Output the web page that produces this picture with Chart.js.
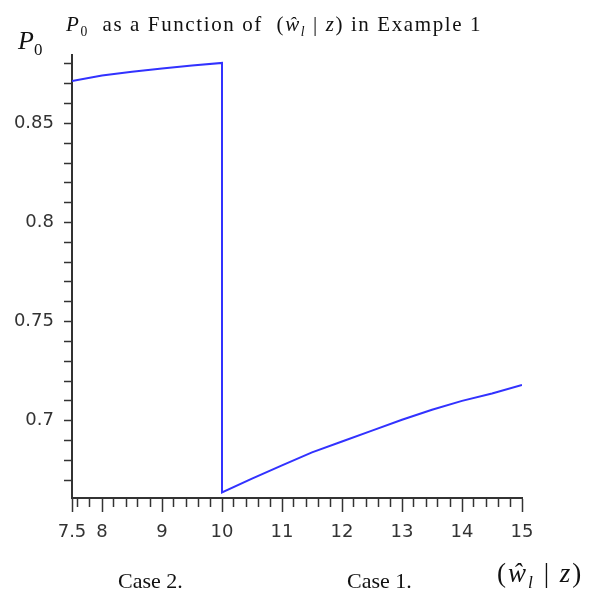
<!DOCTYPE html>
<html>
<head>
<meta charset="utf-8">
<script src="https://cdn.jsdelivr.net/npm/chart.js@4/dist/chart.umd.min.js"></script>
<style>
    body { margin: 0; background: #fff; }
    #wrap { position: relative; width: 589px; height: 597px; }
    #wrap canvas { position: absolute; left: 0; top: 0; }
    .txt { position: absolute; white-space: nowrap; font-family: "Liberation Serif", "DejaVu Serif", serif; color: #111; line-height: 1; }
    .txt sub { font-size: 0.65em; vertical-align: -0.35em; }
</style>
</head>
<body>
<div id="wrap">
    <canvas id="p0Chart" width="589" height="597"></canvas>
    <div class="txt" id="title" style="left:66px; top:14px; font-size:21px; letter-spacing:1.6px;"><i>P</i><sub>0</sub>&nbsp; as a Function of &nbsp;(<i>ŵ</i><sub><i>l</i></sub> | <i>z</i>) in Example 1</div>
    <div class="txt" id="ylab" style="left:18px; top:28px; font-size:26px;"><i>P</i><sub>0</sub></div>
    <div class="txt" style="left:118px; top:570px; font-size:22px;">Case 2.</div>
    <div class="txt" style="left:347px; top:570px; font-size:22px;">Case 1.</div>
    <div class="txt" id="xlab" style="left:497px; top:560px; font-size:27px; letter-spacing:2px;">(<i>ŵ</i><sub><i>l</i></sub> | <i>z</i>)</div>
</div>
<script>
// Case 2 branch (left of 10) and Case 1 branch (right of 10)
const case2X = [7.5, 8.0, 8.5, 9.0, 9.5, 10.0];
const case2P = [0.8714, 0.8742, 0.8760, 0.8777, 0.8792, 0.8805];
const case1X = [10.0, 10.5, 11.0, 11.5, 12.0, 12.5, 13.0, 13.5, 14.0, 14.5, 15.0];
const case1P = [0.6638, 0.6708, 0.6775, 0.6840, 0.6895, 0.6950, 0.7005, 0.7055, 0.7100, 0.7137, 0.7180];

// tick positions
const xMajorTicks = [7.5, 8, 9, 10, 11, 12, 13, 14, 15];
const xMinorTicks = [7.6, 7.8, 8.2, 8.4, 8.6, 8.8, 9.2, 9.4, 9.6, 9.8, 10.2, 10.4, 10.6, 10.8,
    11.2, 11.4, 11.6, 11.8, 12.2, 12.4, 12.6, 12.8, 13.2, 13.4, 13.6, 13.8, 14.2, 14.4, 14.6, 14.8];
const yMajorTicks = [0.7, 0.75, 0.8, 0.85];
const yMinorTicks = [0.67, 0.68, 0.69, 0.71, 0.72, 0.73, 0.74, 0.76, 0.77, 0.78, 0.79,
    0.81, 0.82, 0.83, 0.84, 0.86, 0.87, 0.88];
const yTickLabels = ['0.7', '0.75', '0.8', '0.85'];

const isIn = (list, v) => list.some(m => Math.abs(m - v) < 1e-6);

const points = [];
case2X.forEach((x, i) => points.push({ x: x, y: case2P[i] }));
case1X.forEach((x, i) => points.push({ x: x, y: case1P[i] }));

const axisColor = '#333';
const tickFont = { family: 'DejaVu Sans', size: 18 };

new Chart(document.getElementById('p0Chart'), {
    type: 'scatter',
    data: {
        datasets: [{
            data: points,
            showLine: true,
            borderColor: 'rgb(50, 50, 255)',
            borderWidth: 2,
            pointRadius: 0,
            tension: 0
        }]
    },
    options: {
        responsive: false,
        animation: false,
        devicePixelRatio: 1,
        layout: { padding: { top: 55, right: 67, left: 0, bottom: 0 } },
        plugins: { legend: { display: false }, tooltip: { enabled: false } },
        scales: {
            x: {
                type: 'linear',
                min: 7.5,
                max: 15,
                afterBuildTicks: s => {
                    s.ticks = xMajorTicks.concat(xMinorTicks).sort((a, b) => a - b).map(v => ({ value: v }));
                },
                afterFit: s => { s.height = 99; },
                ticks: {
                    autoSkip: false,
                    maxRotation: 0,
                    padding: 10,
                    color: '#333',
                    font: tickFont,
                    callback: v => isIn(xMajorTicks, v) ? String(v) : ''
                },
                grid: {
                    drawOnChartArea: false,
                    tickLength: 14,
                    tickColor: axisColor,
                    tickWidth: 1.5,
                    tickBorderDash: c => (c.tick && isIn(xMajorTicks, c.tick.value)) ? [] : [8, 60]
                },
                border: { color: axisColor, width: 2 }
            },
            y: {
                type: 'linear',
                min: 0.661,
                max: 0.8845,
                afterBuildTicks: s => {
                    s.ticks = yMajorTicks.concat(yMinorTicks).sort((a, b) => a - b).map(v => ({ value: v }));
                },
                afterFit: s => { s.width = 72; },
                ticks: {
                    autoSkip: false,
                    padding: 10,
                    color: '#333',
                    font: tickFont,
                    callback: v => {
                        const i = yMajorTicks.findIndex(m => Math.abs(m - v) < 1e-6);
                        return i >= 0 ? yTickLabels[i] : '';
                    }
                },
                grid: {
                    drawOnChartArea: false,
                    tickLength: 8,
                    tickColor: axisColor,
                    tickWidth: 1.5
                },
                border: { color: axisColor, width: 2 }
            }
        }
    }
});
</script>
</body>
</html>
